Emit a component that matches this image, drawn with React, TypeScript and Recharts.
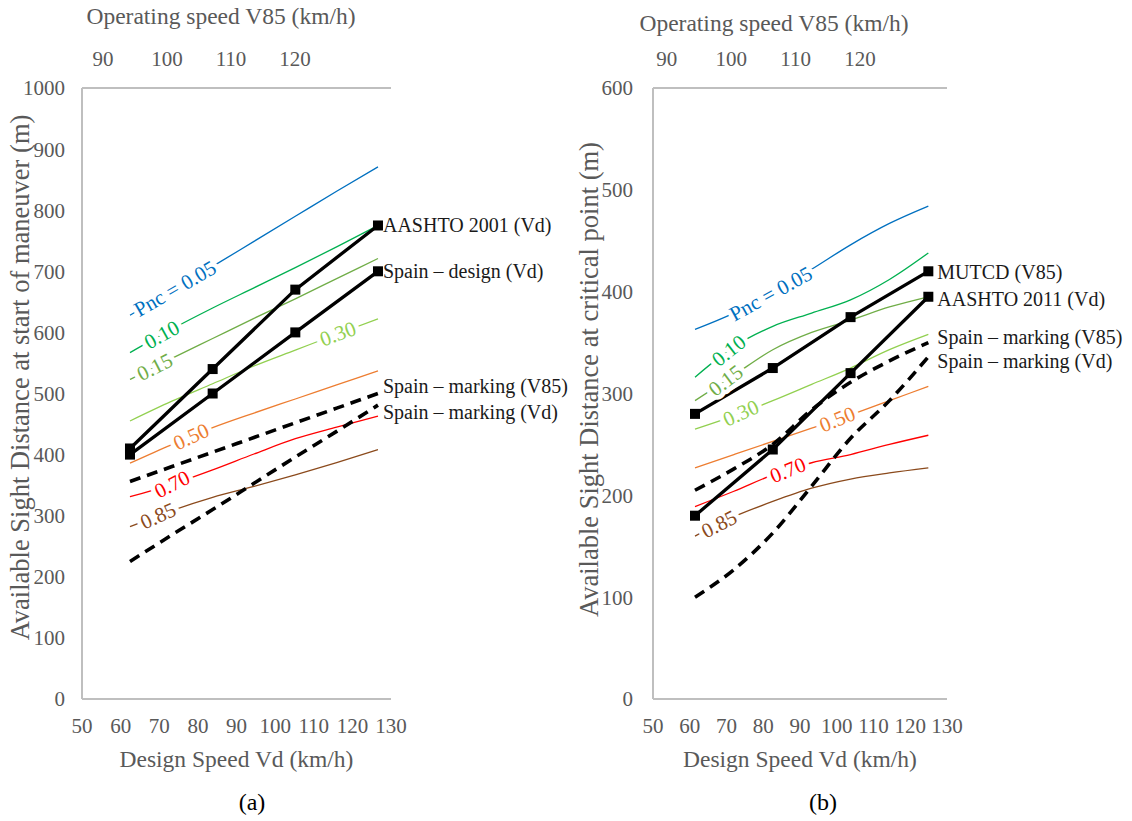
import React from "react";
import { LineChart, Line, XAxis, YAxis, ReferenceDot, LabelList } from "recharts";

// design speed Vd (km/h)
const vdFine = [60, 70, 80, 90, 100, 110, 120];
const vdMarks = [60, 80, 100, 120];
const vdTicks = [50, 60, 70, 80, 90, 100, 110, 120, 130];
const v85Ticks = [90, 100, 110, 120];
const aYTicks = [0, 100, 200, 300, 400, 500, 600, 700, 800, 900, 1000];
const bYTicks = [0, 100, 200, 300, 400, 500, 600];

const pncNames = ["Pnc = 0.05", "0.10", "0.15", "0.30", "0.50", "0.70", "0.85"];
const pncColors = ["#0070C0", "#00B050", "#70AD47", "#92D050", "#ED7D31", "#FF0000", "#8B4A1C"];

// (a) available sight distance at start of maneuver (m)
const aPnc05 = [628, 668, 708, 749, 790, 831, 871];
const aPnc10 = [567, 605, 640, 673, 706, 740, 775];
const aPnc15 = [523, 557, 590, 623, 655, 688, 721];
const aPnc30 = [455, 487, 516, 545, 571, 597, 622];
const aPnc50 = [386, 416, 444, 468, 491, 514, 537];
const aPnc70 = [331, 351, 375, 401, 426, 445, 463];
const aPnc85 = [282, 308, 330, 348, 367, 387, 408];

const aAashto2001 = [410, 540, 670, 775];
const aSpainDesign = [400, 500, 600, 700];
const aSpainMarkV85 = [356, 380, 404, 428, 452, 476, 500];
const aSpainMarkVd = [225, 268, 310, 353, 396, 438, 481];

// (b) available sight distance at critical point (m)
const bPnc05 = [363, 379, 399, 422, 446, 467, 484];
const bPnc10 = [316, 346, 366, 379, 392, 412, 438];
const bPnc15 = [293, 318, 343, 360, 372, 385, 395];
const bPnc30 = [265, 278, 293, 309, 325, 343, 358];
const bPnc50 = [227, 240, 253, 266, 279, 293, 307];
const bPnc70 = [189, 204, 220, 232, 240, 250, 259];
const bPnc85 = [160, 179, 194, 207, 216, 222, 227];

const bMutcd = [280, 325, 375, 420];
const bAashto2011 = [180, 245, 320, 395];
const bSpainMarkV85 = [205, 226, 250, 284, 311, 332, 350];
const bSpainMarkVd = [100, 127, 163, 209, 256, 293, 336];

// where the Pnc labels sit on each curve (Vd) and how much they slant
const aPncLabelVd = [70.9, 67.7, 66, 110.3, 74.8, 70.2, 66.8];
const aPncLabelAngle = [30, 29, 27, 20, 25, 27, 24];
const bPncLabelVd = [79.5, 68.7, 67.9, 71.8, 96.6, 83.9, 66.2];
const bPncLabelAngle = [29, 38, 37, 24, 22, 22, 27];

const FONT = '"Liberation Serif", "Times New Roman", serif';
const GREY = "#595959";
const AXIS = { stroke: "#BFBFBF", strokeWidth: 2 };

const toRows = (xs: number[], ys: number[]) => xs.map((vd, i) => ({ vd, v: ys[i] }));
const tickRows = (xs: number[]) => xs.map((vd) => ({ vd }));

const along = (ys: number[], vd: number) => {
  for (let i = 0; i < vdFine.length - 1; i++) {
    if (vd <= vdFine[i + 1]) {
      const t = (vd - vdFine[i]) / (vdFine[i + 1] - vdFine[i]);
      return ys[i] + t * (ys[i + 1] - ys[i]);
    }
  }
  return ys[ys.length - 1];
};

const Square = (p: any) =>
  p.cx == null ? (
    <g key={`sq-${p.index}`} />
  ) : (
    <rect key={`sq-${p.index}`} x={p.cx - 5} y={p.cy - 5} width={10} height={10} fill="#000" />
  );

const endLabel = (text: string, n: number, dx: number, dy: number) => (p: any) => {
  if (p.index !== n - 1) return null;
  const x = p.viewBox?.x ?? p.x;
  const y = p.viewBox?.y ?? p.y;
  return (
    <text x={x + dx} y={y + dy} dominantBaseline="central" fontSize={20} fill="#1a1a1a">
      {text}
    </text>
  );
};

const pncLabel = (text: string, color: string, angle: number) => (p: any) => (
  <text
    x={p.cx}
    y={p.cy}
    transform={`rotate(${-angle} ${p.cx} ${p.cy})`}
    textAnchor="middle"
    dominantBaseline="central"
    fontSize={21}
    fill={color}
    stroke="#fff"
    strokeWidth={9}
    strokeLinejoin="round"
    paintOrder="stroke"
  >
    {text}
  </text>
);

type Ref = { name: string; xs: number[]; ys: number[]; dashed: boolean; dy: number };

type PanelProps = {
  left: number;
  width: number;
  yWidth: number;
  marginRight: number;
  yMax: number;
  yTicks: number[];
  yTickMargin: number;
  yTitle: string;
  yTitleX: number;
  yTitleShift: number;
  topDomain: [number, number];
  topTitleDx: number;
  topTitleY: number;
  dataDomain: [number, number];
  pnc: number[][];
  pncVd: number[];
  pncAngle: number[];
  refs: Ref[];
  endDx: number;
};

const Panel = (P: PanelProps) => (
  <div style={{ position: "absolute", left: P.left, top: 0 }}>
    <LineChart
      width={P.width}
      height={821}
      margin={{ top: 0, right: P.marginRight, bottom: 62, left: 0 }}
    >
      <XAxis
        xAxisId="top"
        orientation="top"
        dataKey="vd"
        type="number"
        domain={P.topDomain}
        ticks={v85Ticks}
        interval={0}
        allowDataOverflow
        height={88}
        tickLine={false}
        tickSize={0}
        tickMargin={22}
        axisLine={AXIS}
        tick={{ fill: GREY, fontSize: 21 }}
        label={(p: any) => (
          <text x={p.viewBox.x + P.topTitleDx} y={P.topTitleY} textAnchor="middle" fontSize={23.5} fill={GREY}>
            Operating speed V85 (km/h)
          </text>
        )}
      />
      <XAxis
        xAxisId="bottom"
        dataKey="vd"
        type="number"
        domain={[50, 130]}
        ticks={vdTicks}
        interval={0}
        allowDataOverflow
        height={60}
        tickLine={false}
        tickSize={0}
        tickMargin={19}
        axisLine={AXIS}
        tick={{ fill: GREY, fontSize: 21 }}
        label={(p: any) => (
          <text
            x={p.viewBox.x + p.viewBox.width / 2}
            y={p.viewBox.y + 68}
            textAnchor="middle"
            fontSize={23.5}
            fill={GREY}
          >
            Design Speed Vd (km/h)
          </text>
        )}
      />
      <XAxis xAxisId="data" dataKey="vd" type="number" domain={P.dataDomain} allowDataOverflow hide />
      <YAxis
        width={P.yWidth}
        domain={[0, P.yMax]}
        ticks={P.yTicks}
        interval={0}
        allowDataOverflow
        tickLine={false}
        tickSize={0}
        tickMargin={P.yTickMargin}
        axisLine={AXIS}
        tick={{ fill: GREY, fontSize: 21 }}
        label={(p: any) => {
          const x = p.viewBox.x + P.yTitleX;
          const y = p.viewBox.y + p.viewBox.height / 2 + P.yTitleShift;
          return (
            <text x={x} y={y} transform={`rotate(-90 ${x} ${y})`} textAnchor="middle" fontSize={26.5} fill={GREY}>
              {P.yTitle}
            </text>
          );
        }}
      />

      {/* empty series so the two speed scales get their axes drawn */}
      <Line xAxisId="top" data={tickRows(v85Ticks)} dataKey="v" stroke="none" dot={false} isAnimationActive={false} />
      <Line xAxisId="bottom" data={tickRows(vdTicks)} dataKey="v" stroke="none" dot={false} isAnimationActive={false} />

      {P.pnc.map((ys, i) => (
        <Line
          key={pncNames[i]}
          xAxisId="data"
          data={toRows(vdFine, ys)}
          dataKey="v"
          type="monotone"
          stroke={pncColors[i]}
          strokeWidth={1.3}
          dot={false}
          isAnimationActive={false}
        />
      ))}

      {P.pnc.map((ys, i) => (
        <ReferenceDot
          key={`lbl-${i}`}
          xAxisId="data"
          x={P.pncVd[i]}
          y={along(ys, P.pncVd[i])}
          r={1}
          shape={pncLabel(pncNames[i], pncColors[i], P.pncAngle[i])}
        />
      ))}

      {P.refs.map((r) => (
        <Line
          key={r.name}
          xAxisId="data"
          data={toRows(r.xs, r.ys)}
          dataKey="v"
          type={r.dashed ? "monotone" : "linear"}
          stroke="#000"
          strokeWidth={r.dashed ? 3.6 : 3.3}
          strokeDasharray={r.dashed ? "11 7" : undefined}
          dot={r.dashed ? false : Square}
          isAnimationActive={false}
        >
          <LabelList dataKey="v" content={endLabel(r.name, r.xs.length, P.endDx, r.dy)} />
        </Line>
      ))}
    </LineChart>
  </div>
);

const Caption = ({ x, text }: { x: number; text: string }) => (
  <div
    style={{
      position: "absolute",
      left: x - 50,
      top: 788,
      width: 100,
      textAlign: "center",
      fontSize: 24,
      lineHeight: "28px",
      color: "#000",
    }}
  >
    {text}
  </div>
);

export default function App() {
  return (
    <div
      style={{
        position: "absolute",
        left: 0,
        top: 0,
        width: 1132,
        height: 821,
        background: "#fff",
        fontFamily: FONT,
        overflow: "hidden",
      }}
    >
      <Panel
        left={0}
        width={600}
        yWidth={82}
        marginRight={209}
        yMax={1000}
        yTicks={aYTicks}
        yTickMargin={17}
        yTitle="Available Sight Distance at start of maneuver (m)"
        yTitleX={29}
        yTitleShift={-16}
        topDomain={[86.72, 135]}
        topTitleDx={139}
        topTitleY={24}
        dataDomain={[48.39, 123.15]}
        pnc={[aPnc05, aPnc10, aPnc15, aPnc30, aPnc50, aPnc70, aPnc85]}
        pncVd={aPncLabelVd}
        pncAngle={aPncLabelAngle}
        refs={[
          { name: "AASHTO 2001 (Vd)", xs: vdMarks, ys: aAashto2001, dashed: false, dy: 0 },
          { name: "Spain – design (Vd)", xs: vdMarks, ys: aSpainDesign, dashed: false, dy: 0 },
          { name: "Spain – marking (V85)", xs: vdFine, ys: aSpainMarkV85, dashed: true, dy: -8 },
          { name: "Spain – marking (Vd)", xs: vdFine, ys: aSpainMarkVd, dashed: true, dy: 7 },
        ]}
        endDx={5}
      />
      <Panel
        left={560}
        width={572}
        yWidth={93}
        marginRight={185}
        yMax={600}
        yTicks={bYTicks}
        yTickMargin={20}
        yTitle="Available Sight Distance at critical point (m)"
        yTitleX={38}
        yTitleShift={-14}
        topDomain={[87.87, 133.5]}
        topTitleDx={121}
        topTitleY={31}
        dataDomain={[49.2, 124.8]}
        pnc={[bPnc05, bPnc10, bPnc15, bPnc30, bPnc50, bPnc70, bPnc85]}
        pncVd={bPncLabelVd}
        pncAngle={bPncLabelAngle}
        refs={[
          { name: "MUTCD (V85)", xs: vdMarks, ys: bMutcd, dashed: false, dy: 1 },
          { name: "AASHTO 2011 (Vd)", xs: vdMarks, ys: bAashto2011, dashed: false, dy: 2 },
          { name: "Spain – marking (V85)", xs: vdFine, ys: bSpainMarkV85, dashed: true, dy: -6 },
          { name: "Spain – marking (Vd)", xs: vdFine, ys: bSpainMarkVd, dashed: true, dy: 4 },
        ]}
        endDx={9}
      />
      <Caption x={252} text="(a)" />
      <Caption x={823} text="(b)" />
    </div>
  );
}
